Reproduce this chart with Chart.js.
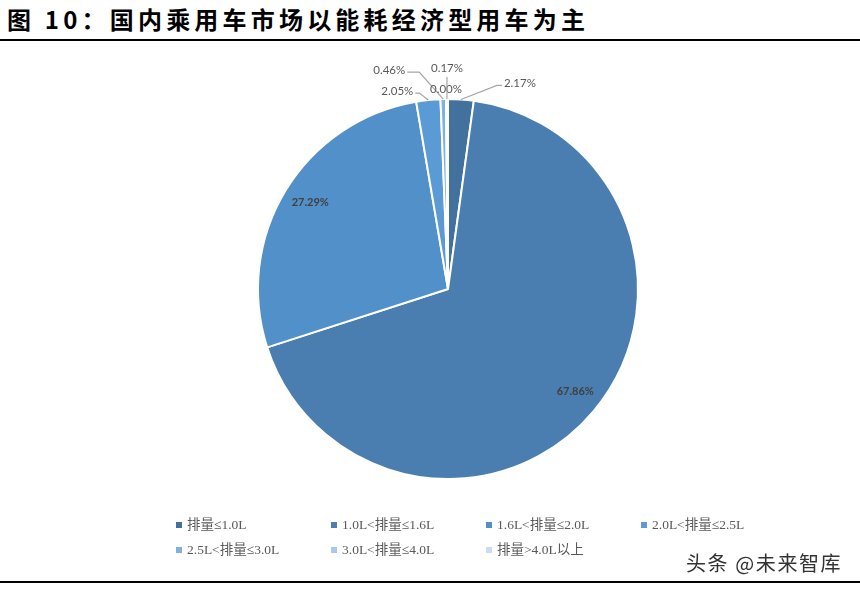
<!DOCTYPE html>
<html><head><meta charset="utf-8">
<script src="https://cdn.jsdelivr.net/npm/chart.js@4.4.0/dist/chart.umd.min.js"></script>
<style>
html,body{margin:0;padding:0;background:#fff;}
#wrap{position:relative;width:860px;height:590px;overflow:hidden;}
#title{position:absolute;left:7px;top:2px;font-family:"Noto Sans CJK SC";font-weight:bold;font-size:24px;letter-spacing:4.2px;color:#000;white-space:nowrap;line-height:34px;}
#topline{position:absolute;left:0;top:39px;width:860px;height:2px;background:#000;}
#botline{position:absolute;left:0;top:581px;width:860px;height:2px;background:#000;}
#wm{position:absolute;left:686px;top:548px;font-family:"Noto Sans CJK SC";font-size:20px;letter-spacing:1.6px;color:#333;white-space:nowrap;}
canvas{position:absolute;left:0;top:0;}
</style></head>
<body><div id="wrap">
<div id="title">图 10：国内乘用车市场以能耗经济型用车为主</div>
<div id="topline"></div>
<canvas id="c" width="860" height="590"></canvas>
<div id="botline"></div>
<div id="wm">头条 @未来智库</div>
</div>
<script>
const categories = ["排量≤1.0L","1.0L<排量≤1.6L","1.6L<排量≤2.0L","2.0L<排量≤2.5L","2.5L<排量≤3.0L","3.0L<排量≤4.0L","排量>4.0L以上"];
const shares = [2.17, 67.86, 27.29, 2.05, 0.46, 0.00, 0.17];
const valueLabels = ["2.17%","67.86%","27.29%","2.05%","0.46%","0.00%","0.17%"];
const sliceColors = ["#41719c","#4a7eb0","#5190c8","#5b9bd5","#80b0e0","#a9c8ea","#c9dcf1"];

// label style per slice (not data): mode, leader elbow offset, text side
const labelStyle = [
  {mode:"out", ex:36, ey:-14, hx:5, align:"left"},
  {mode:"in"},
  {mode:"in"},
  {mode:"out", ex:-9, ey:-7, hx:-4, align:"right"},
  {mode:"out", ex:-24, ey:-27, hx:-12, align:"right"},
  {mode:"text", ex:0, ey:-10},
  {mode:"out", ex:0, ey:-22, hx:0, align:"center"}
];

const labelPlugin = {
  id:"pieLabels",
  afterDatasetsDraw(chart){
    const ctx = chart.ctx;
    const meta = chart.getDatasetMeta(0);
    ctx.save();
    meta.data.forEach((arc,i)=>{
      const p = arc.getProps(["x","y","startAngle","endAngle","outerRadius"],true);
      const mid = (p.startAngle+p.endAngle)/2;
      const st = labelStyle[i];
      if(st.mode==="in"){
        const r = p.outerRadius*0.86;
        ctx.font = "bold 11px Lato, 'Liberation Sans', sans-serif";
        ctx.fillStyle = "#404040";
        ctx.textAlign="center"; ctx.textBaseline="middle";
        ctx.fillText(valueLabels[i], p.x+Math.cos(mid)*r+2, p.y+Math.sin(mid)*r-2);
        return;
      }
      const ax = p.x+Math.cos(mid)*p.outerRadius, ay = p.y+Math.sin(mid)*p.outerRadius;
      const ex = ax+st.ex, ey = ay+st.ey;
      ctx.font = "11.5px Lato, 'Liberation Sans', sans-serif";
      ctx.fillStyle = "#595959";
      ctx.textBaseline="middle";
      if(st.mode==="text"){
        ctx.textAlign="center";
        ctx.fillText(valueLabels[i], ex, ey);
        return;
      }
      ctx.strokeStyle="#a6a6a6"; ctx.lineWidth=1.2;
      ctx.beginPath(); ctx.moveTo(ax,ay); ctx.lineTo(ex,ey); ctx.lineTo(ex+st.hx,ey); ctx.stroke();
      ctx.textAlign=st.align;
      let tx = ex+st.hx + (st.align==="left"?2:st.align==="right"?-2:0);
      let ty = st.align==="center"? ey-9 : ey-2;
      ctx.fillText(valueLabels[i], tx, ty);
    });
    ctx.restore();
  }
};

const legendPlugin = {
  id:"gridLegend",
  afterDraw(chart){
    const ctx = chart.ctx;
    ctx.save();
    const x0=176, dx=155, y0=525, dy=25;
    ctx.font = "13.5px 'Liberation Serif', 'Noto Sans CJK SC', serif";
    ctx.textAlign="left"; ctx.textBaseline="middle";
    categories.forEach((c,i)=>{
      const col=i%4, row=Math.floor(i/4);
      const x=x0+col*dx, y=y0+row*dy;
      ctx.fillStyle=sliceColors[i];
      ctx.fillRect(x,y-3,6,6);
      ctx.fillStyle="#595959";
      ctx.fillText(c,x+11,y);
    });
    ctx.restore();
  }
};

new Chart(document.getElementById("c"),{
  type:"pie",
  data:{labels:categories,datasets:[{data:shares,backgroundColor:sliceColors,borderColor:"#ffffff",borderWidth:2}]},
  options:{
    responsive:false,animation:false,
    layout:{padding:{top:98,bottom:110,left:36,right:0}},
    plugins:{legend:{display:false},tooltip:{enabled:false}}
  },
  plugins:[labelPlugin,legendPlugin]
});
</script>
</body></html>
